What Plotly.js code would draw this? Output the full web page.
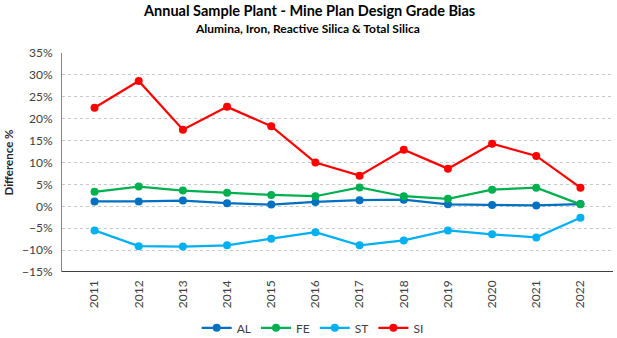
<!DOCTYPE html>
<html><head><meta charset="utf-8">
<script src="https://cdn.plot.ly/plotly-3.0.1.min.js"></script>
<style>html,body{margin:0;padding:0;background:#fff}#chart{width:617px;height:338px}</style>
</head><body><div id="chart"></div>
<script>
const years = ['2011','2012','2013','2014','2015','2016','2017','2018','2019','2020','2021','2022'];
const AL = [0.011,0.011,0.013,0.007,0.004,0.010,0.014,0.015,0.0045,0.003,0.002,0.005];
const FE = [0.033,0.045,0.036,0.031,0.026,0.023,0.043,0.023,0.017,0.038,0.0425,0.0045];
const ST = [-0.055,-0.091,-0.092,-0.089,-0.074,-0.059,-0.089,-0.078,-0.055,-0.064,-0.071,-0.026];
const SI = [0.225,0.286,0.175,0.227,0.183,0.100,0.070,0.129,0.086,0.143,0.115,0.0425];
const seriesNames = ['AL','FE','ST','SI'];
const seriesColors = ['#0070C0','#00B050','#00B0F0','#FF0000'];
const seriesData = [AL, FE, ST, SI];

const traces = seriesData.map((d,i)=>({
  x: years, y: d, name: seriesNames[i], type:'scatter', mode:'lines+markers',
  line:{color:seriesColors[i], width:2.25},
  marker:{color:seriesColors[i], size:8}
}));

const font = "Lato, 'Open Sans', sans-serif";
const layout = {
  width:617, height:338,
  margin:{l:62, r:4, t:53, b:66, autoexpand:false},
  paper_bgcolor:'#fff', plot_bgcolor:'#fff',
  font:{family:font, size:12, color:'#595959'},
  showlegend:true,
  legend:{orientation:'h', x:0.455, xanchor:'center', y:-0.255, yanchor:'middle',
    font:{family:font, size:12, color:'#404040'}, traceorder:'normal', itemwidth:30},
  xaxis:{type:'category', tickangle:-90, showgrid:false, zeroline:false, automargin:false,
    showline:false, ticks:'', ticklabelstandoff:5, tickfont:{family:font, size:12, color:'#404040'}},
  yaxis:{range:[-0.15,0.35], dtick:0.05, tickformat:'.0%', showgrid:true, automargin:false,
    gridcolor:'#C8C8C8', griddash:'dot', gridwidth:1, zeroline:false,
    showline:true, linecolor:'#868686', linewidth:1, ticks:'', ticklabelstandoff:6,
    tickfont:{family:font, size:12, color:'#404040'},
    title:{text:'<b>Difference %</b>', font:{family:font, size:11.5, color:'#262626'}, standoff:6}},
  shapes:[{type:'line', xref:'paper', yref:'y', x0:0, x1:1, y0:-0.15, y1:-0.15,
    line:{color:'#000', width:1.5}}],
  annotations:[
    {text:'<b>Annual Sample Plant - Mine Plan Design Grade Bias</b>', xref:'paper', yref:'paper',
     x:0.448, y:1, yshift:32, showarrow:false, xanchor:'center', yanchor:'bottom',
     font:{family:font, size:14.5, color:'#000'}},
    {text:'<b>Alumina, Iron, Reactive Silica &amp; Total Silica</b>', xref:'paper', yref:'paper',
     x:0.445, y:1, yshift:15, showarrow:false, xanchor:'center', yanchor:'bottom',
     font:{family:font, size:12, color:'#000'}}
  ]
};
Plotly.newPlot('chart', traces, layout, {staticPlot:true, displayModeBar:false});
</script></body></html>
